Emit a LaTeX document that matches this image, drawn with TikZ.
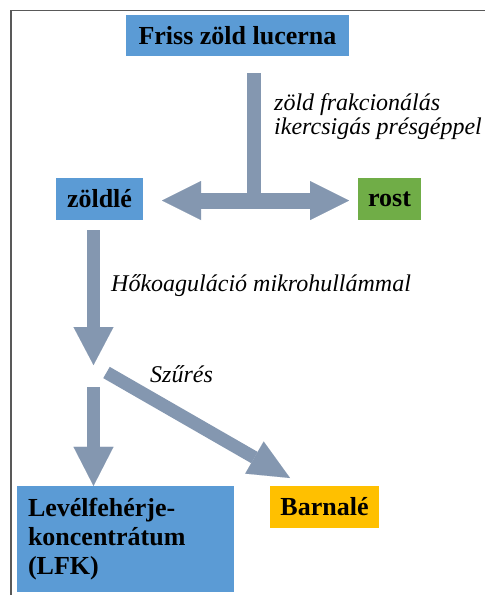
\documentclass[tikz,border=0pt]{standalone}
\usepackage{fontspec}
\setmainfont{Liberation Serif}
\usetikzlibrary{arrows.meta}
\definecolor{boxblue}{HTML}{5B9BD5}
\definecolor{boxgreen}{HTML}{70AD47}
\definecolor{boxgold}{HTML}{FFC000}
\definecolor{arrowc}{HTML}{8497B0}
\begin{document}
\begin{tikzpicture}[x=1pt,y=-1pt,
  box/.style={rectangle, inner sep=0pt, font=\fontsize{26}{29}\selectfont\bfseries, text=black},
  lbl/.style={inner sep=0pt, font=\fontsize{24}{23.5}\selectfont\itshape, align=left},
  shaft/.style={draw=arrowc, line width=#1},
  bighead/.style={-{Triangle[length=#1,width=40pt,line width=0.01pt]}}
]
\useasboundingbox (0,0) rectangle (485,595);
\fill[white] (0,0) rectangle (485,595);
\draw[line width=1.5pt, black!65] (485,10.5) -- (11,10.5) -- (11,595);

% boxes
\node[box, fill=boxblue, minimum width=223pt, minimum height=41pt] (friss) at (237.5,35.5) {Friss zöld lucerna};
\node[box, fill=boxblue, minimum width=87pt, minimum height=42pt] (zoldle) at (99.5,199) {zöldlé};
\node[box, fill=boxgreen, minimum width=63pt, minimum height=42pt] (rost) at (389.5,199) {rost};
\node[box, fill=boxblue, minimum width=217pt, minimum height=106pt, text width=195pt, align=left, inner xsep=11pt] (lfk) at (125.5,539) {Levélfehérje-\\koncentrátum\\(LFK)};
\node[box, fill=boxgold, minimum width=109pt, minimum height=42pt] (barnale) at (324.5,507) {Barnalé};

% labels
\node[lbl, anchor=north west] (l1) at (274,93.5) {zöld frakcionálás\\ikercsigás présgéppel};
\node[lbl, anchor=base west] (l2) at (111,291) {Hőkoaguláció mikrohullámmal};
\node[lbl, anchor=base west] (l3) at (150,382.5) {Szűrés};

% connector coordinates
\coordinate (stemtop) at (254,73);
\coordinate (stembot) at (254,201);
\coordinate (da1) at (162,200.5);
\coordinate (da2) at (349,200.5);
\coordinate (a1s) at (93.5,230);
\coordinate (a1e) at (93.5,365);
\coordinate (a2s) at (93.5,387);
\coordinate (a2e) at (lfk.north -| a2s);
\coordinate (a3s) at (106.5,372.5);
\coordinate (a3e) at (290,478);

% arrows
\draw[shaft=14pt] (stemtop) -- (stembot);
\draw[shaft=16pt, arrowc, {Triangle[length=39pt,width=39pt,line width=0.01pt]}-{Triangle[length=39pt,width=39pt,line width=0.01pt]}] (da1) -- (da2);
\draw[shaft=13pt, arrowc, bighead=38pt] (a1s) -- (a1e);
\draw[shaft=13pt, arrowc, bighead=39pt] (a2s) -- (a2e);
\draw[shaft=13pt, arrowc, -{Triangle[length=41pt,width=37pt,line width=0.01pt]}] (a3s) -- (a3e);
\end{tikzpicture}
\end{document}
